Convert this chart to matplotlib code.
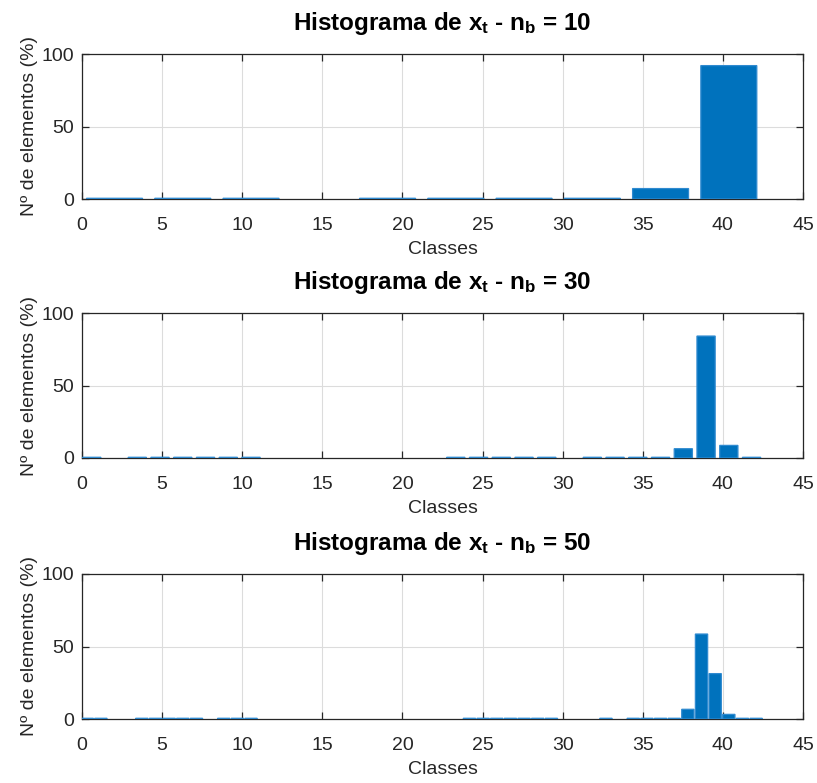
import numpy as np
import matplotlib
matplotlib.use("Agg")
import matplotlib.pyplot as plt

plt.rcParams["font.family"] = ["Liberation Sans", "DejaVu Sans"]
plt.rcParams["mathtext.fontset"] = "custom"
plt.rcParams["mathtext.rm"] = "Liberation Sans"
plt.rcParams["mathtext.bf"] = "Liberation Sans:bold"
plt.rcParams["mathtext.it"] = "Liberation Sans:italic"

# histogram range (class values) shared by all three panels
x_min, x_max = -0.1, 42.5

# % of elements per bin, nb = 10
pct_10 = [0.5, 0.5, 0.5, 0.0, 0.5, 0.5, 0.5, 0.5, 7.2, 92.0]

# nb = 30
pct_30 = [0.5, 0.0, 0.5, 0.5, 0.5, 0.5, 0.5, 0.5, 0.0, 0.0,
          0.0, 0.0, 0.0, 0.0, 0.0, 0.0, 0.5, 0.5, 0.5, 0.5,
          0.5, 0.0, 0.5, 0.5, 0.5, 0.5, 6.4, 84.1, 8.7, 0.5]

# nb = 50
pct_50 = [0.5, 0.5, 0.0, 0.0, 0.5, 0.5, 0.5, 0.5, 0.5, 0.0,
          0.5, 0.5, 0.5, 0.0, 0.0, 0.0, 0.0, 0.0, 0.0, 0.0,
          0.0, 0.0, 0.0, 0.0, 0.0, 0.0, 0.0, 0.0, 0.5, 0.5,
          0.5, 0.5, 0.5, 0.5, 0.5, 0.0, 0.0, 0.0, 0.5, 0.0,
          0.5, 0.5, 0.5, 0.5, 6.7, 58.6, 31.3, 3.2, 0.5, 0.5]

panels = [(10, pct_10), (30, pct_30), (50, pct_50)]

BAR = "#0072BD"
EDGE = "#2f8ad0"
AX = "#262626"

W, H = 817, 783
fig = plt.figure(figsize=(W / 100, H / 100), dpi=100)
# axes bottom edges in pixels from the top of the figure
bottom_px = [199, 458, 719]
bar_frac = [0.82, 0.8, 0.9]

for (nb, pct), bpx, frac in zip(panels, bottom_px, bar_frac):
    ax = fig.add_axes([82 / W, 1 - bpx / H, 721 / W, 145 / H])
    edges = np.linspace(x_min, x_max, nb + 1)
    centers = (edges[:-1] + edges[1:]) / 2
    step = edges[1] - edges[0]
    vals = np.array(pct)
    mask = vals > 0
    bars = ax.bar(centers[mask], vals[mask], width=frac * step, color=BAR,
                  edgecolor=EDGE, linewidth=0.9, zorder=3)
    for p in bars:
        p.set_snap(False)

    ax.set_xlim(0, 45)
    ax.set_ylim(0, 100)
    ax.set_xticks(np.arange(0, 46, 5))
    ax.set_yticks([0, 50, 100])
    ax.set_axisbelow(True)
    ax.grid(True, color="#dcdcdc", linewidth=0.8)
    ax.tick_params(direction="in", top=True, right=True, length=5,
                   width=0.9, color=AX, labelcolor=AX, labelsize=14)
    ax.tick_params(axis="x", pad=13)
    ax.tick_params(axis="y", pad=6)
    for s in ax.spines.values():
        s.set_color(AX)
        s.set_linewidth(0.9)

    ax.set_xlabel("Classes", fontsize=14, color=AX, labelpad=5)
    ax.set_ylabel("Nº de elementos (%)", fontsize=14, color=AX, labelpad=2)
    ax.set_title(r"Histograma de $\mathbf{x_t}$ - $\mathbf{n_b}$ = " + str(nb),
                 fontsize=17.5, fontweight="bold", color="black", pad=17)

fig.savefig("out.png", dpi=100)
